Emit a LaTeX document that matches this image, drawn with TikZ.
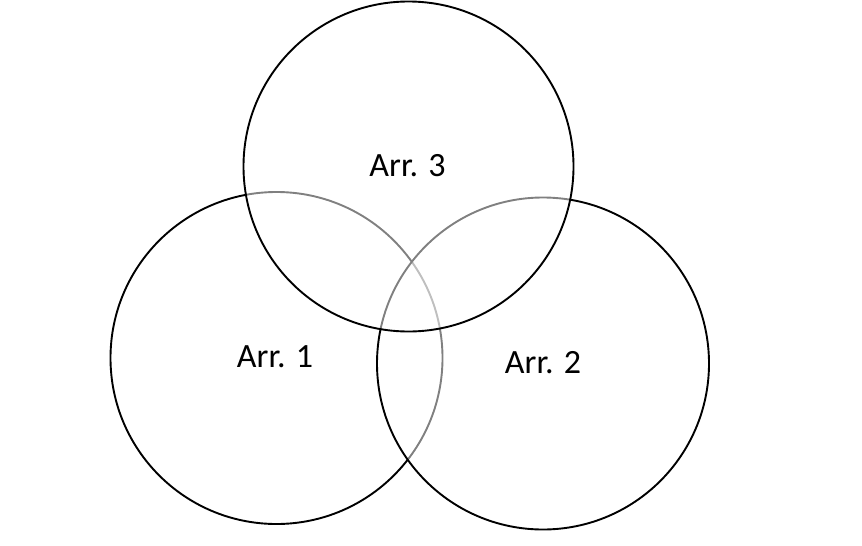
\documentclass[tikz,border=0pt]{standalone}
\usepackage{fontspec}
\setmainfont{Carlito}
\begin{document}
\begin{tikzpicture}[x=1pt,y=-1pt,
  ring/.style={draw=black,line width=1.9pt},
  veil/.style={ring,fill=white,fill opacity=0.5},
  lbl/.style={font=\fontsize{34}{37}\selectfont,inner sep=0pt,text depth=0pt}]
\useasboundingbox (0,0) rectangle (862,546);
\node[ring,circle,minimum size=332pt,inner sep=0pt] (c1) at (276.5,358) {};
\node[veil,circle,minimum size=332pt,inner sep=0pt] (c2) at (543,363.5) {};
\node[veil,circle,minimum size=330pt,inner sep=0pt] (c3) at (408.5,166.5) {};
\node[lbl] (t3) at (407.5,165.5) {Arr. 3};
\node[lbl] (t1) at (275,357) {Arr. 1};
\node[lbl] (t2) at (543,362) {Arr. 2};
\end{tikzpicture}
\end{document}
